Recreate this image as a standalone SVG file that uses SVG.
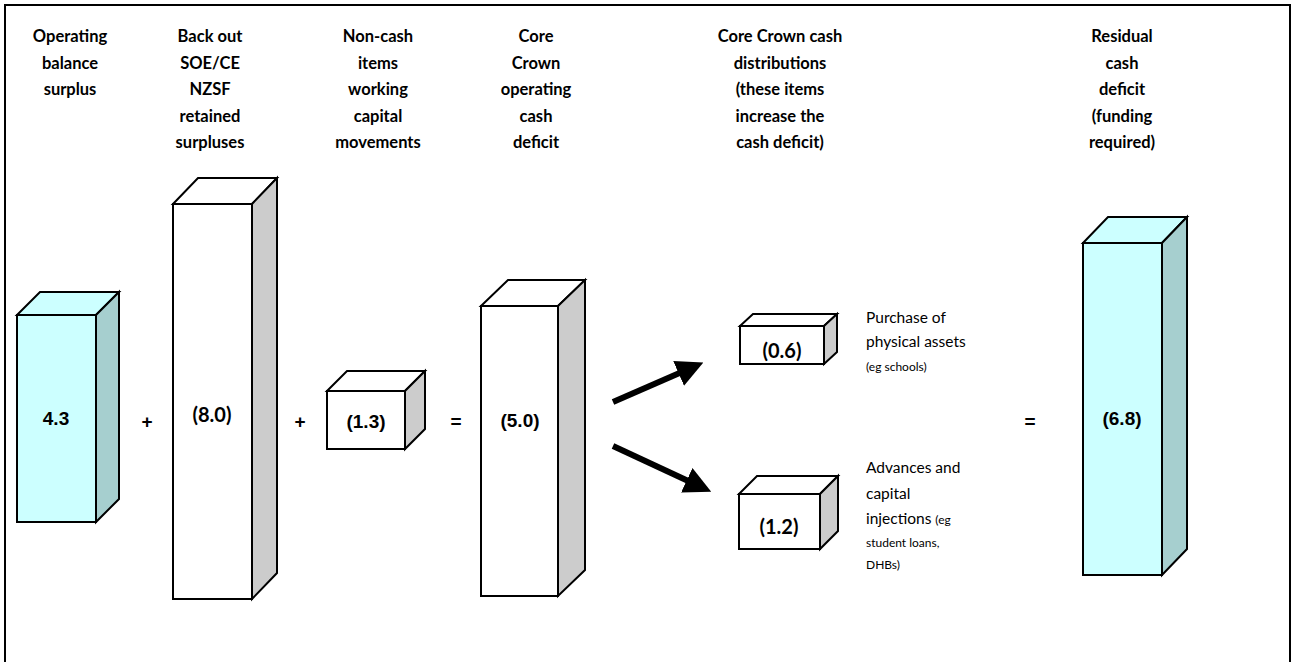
<svg xmlns="http://www.w3.org/2000/svg" width="1292" height="662" viewBox="0 0 1292 662">
<defs>
<style>
.edge{stroke:#000;stroke-width:2;stroke-linejoin:miter}
.cf{fill:#CCFFFF}.cs{fill:#A6CFCF}
.wf{fill:#FFFFFF}.ws{fill:#CCCCCC}
.hd{font-family:Lato,"Open Sans",sans-serif;font-weight:bold;font-size:16.5px;text-anchor:middle;fill:#000}
.va{font-family:"Liberation Sans",Arial,sans-serif;font-weight:bold;font-size:19px;text-anchor:middle;fill:#000}
.vc{font-family:Lato,"Open Sans",sans-serif;font-weight:bold;font-size:20px;text-anchor:middle;fill:#000}
.op{font-family:"Liberation Sans",Arial,sans-serif;font-weight:bold;font-size:19px;text-anchor:middle;fill:#000}
.lb{font-family:Lato,"Open Sans",sans-serif;font-size:15.5px;fill:#000}
.sm{font-size:12px}
.arr{stroke:#000;stroke-width:6;fill:none}
</style>
<marker id="ah" viewBox="0 0 10 10" refX="5" refY="5" markerWidth="4.5" markerHeight="4.5" orient="auto" markerUnits="strokeWidth">
<path d="M0,0 L10,5 L0,10 z" fill="#000"/>
</marker>
</defs>
<rect x="5" y="5" width="1285" height="720" fill="none" stroke="#000" stroke-width="2"/>

<g id="headers">
<text class="hd" x="70" y="42">Operating<tspan x="70" dy="26.5">balance</tspan><tspan x="70" dy="26.5">surplus</tspan></text>
<text class="hd" x="210" y="42">Back out<tspan x="210" dy="26.5">SOE/CE</tspan><tspan x="210" dy="26.5">NZSF</tspan><tspan x="210" dy="26.5">retained</tspan><tspan x="210" dy="26.5">surpluses</tspan></text>
<text class="hd" x="378" y="42">Non-cash<tspan x="378" dy="26.5">items</tspan><tspan x="378" dy="26.5">working</tspan><tspan x="378" dy="26.5">capital</tspan><tspan x="378" dy="26.5">movements</tspan></text>
<text class="hd" x="536" y="42">Core<tspan x="536" dy="26.5">Crown</tspan><tspan x="536" dy="26.5">operating</tspan><tspan x="536" dy="26.5">cash</tspan><tspan x="536" dy="26.5">deficit</tspan></text>
<text class="hd" x="780" y="42">Core Crown cash<tspan x="780" dy="26.5">distributions</tspan><tspan x="780" dy="26.5">(these items</tspan><tspan x="780" dy="26.5">increase the</tspan><tspan x="780" dy="26.5">cash deficit)</tspan></text>
<text class="hd" x="1122" y="42">Residual<tspan x="1122" dy="26.5">cash</tspan><tspan x="1122" dy="26.5">deficit</tspan><tspan x="1122" dy="26.5">(funding</tspan><tspan x="1122" dy="26.5">required)</tspan></text>
</g>

<g id="box-operating-balance">
<rect class="cf edge" x="17" y="315" width="79" height="207"/>
<polygon class="cf edge" points="17,315 40,292 119,292 96,315"/>
<polygon class="cs edge" points="96,315 119,292 119,499 96,522"/>
<text class="va" x="56" y="425">4.3</text>
</g>

<g id="box-back-out">
<rect class="wf edge" x="173" y="204" width="79" height="395"/>
<polygon class="wf edge" points="173,204 198,178 277,178 252,204"/>
<polygon class="ws edge" points="252,204 277,178 277,573 252,599"/>
<text class="vc" x="212" y="422">(8.0)</text>
</g>

<g id="box-non-cash">
<rect class="wf edge" x="327" y="391" width="78" height="58"/>
<polygon class="wf edge" points="327,391 347,371 425,371 405,391"/>
<polygon class="ws edge" points="405,391 425,371 425,429 405,449"/>
<text class="va" x="366" y="428">(1.3)</text>
</g>

<g id="box-core-crown">
<rect class="wf edge" x="481" y="306" width="77" height="290"/>
<polygon class="wf edge" points="481,306 508,280 585,280 558,306"/>
<polygon class="ws edge" points="558,306 585,280 585,570 558,596"/>
<text class="va" x="520" y="427">(5.0)</text>
</g>

<g id="box-purchase">
<rect class="wf edge" x="740" y="326" width="84" height="38"/>
<polygon class="wf edge" points="740,326 753,314 837,314 824,326"/>
<polygon class="ws edge" points="824,326 837,314 837,352 824,364"/>
<text class="vc" x="782" y="358">(0.6)</text>
<text class="lb" x="866" y="323">Purchase of<tspan x="866" dy="24">physical assets</tspan><tspan x="866" dy="24" class="sm">(eg schools)</tspan></text>
</g>

<g id="box-advances">
<rect class="wf edge" x="739" y="494" width="81" height="55"/>
<polygon class="wf edge" points="739,494 757,476 838,476 820,494"/>
<polygon class="ws edge" points="820,494 838,476 838,531 820,549"/>
<text class="vc" x="779" y="534">(1.2)</text>
<text class="lb" x="866" y="473">Advances and<tspan x="866" dy="25.5">capital</tspan><tspan x="866" dy="25.5">injections </tspan><tspan class="sm">(eg</tspan><tspan x="866" dy="23" class="sm">student loans,</tspan><tspan x="866" dy="22" class="sm">DHBs)</tspan></text>
</g>

<g id="box-residual">
<rect class="cf edge" x="1083" y="243" width="79" height="332"/>
<polygon class="cf edge" points="1083,243 1108,217 1187,217 1162,243"/>
<polygon class="cs edge" points="1162,243 1187,217 1187,549 1162,575"/>
<text class="va" x="1122" y="425">(6.8)</text>
</g>

<g id="operators">
<text class="op" x="147" y="428">+</text>
<text class="op" x="300" y="428">+</text>
<text class="op" x="456" y="428">=</text>
<text class="op" x="1030" y="428">=</text>
</g>

<g id="connectors">
<line class="arr" x1="613" y1="402" x2="691" y2="368" marker-end="url(#ah)"/>
<line class="arr" x1="613" y1="446" x2="699" y2="486" marker-end="url(#ah)"/>
</g>
</svg>
